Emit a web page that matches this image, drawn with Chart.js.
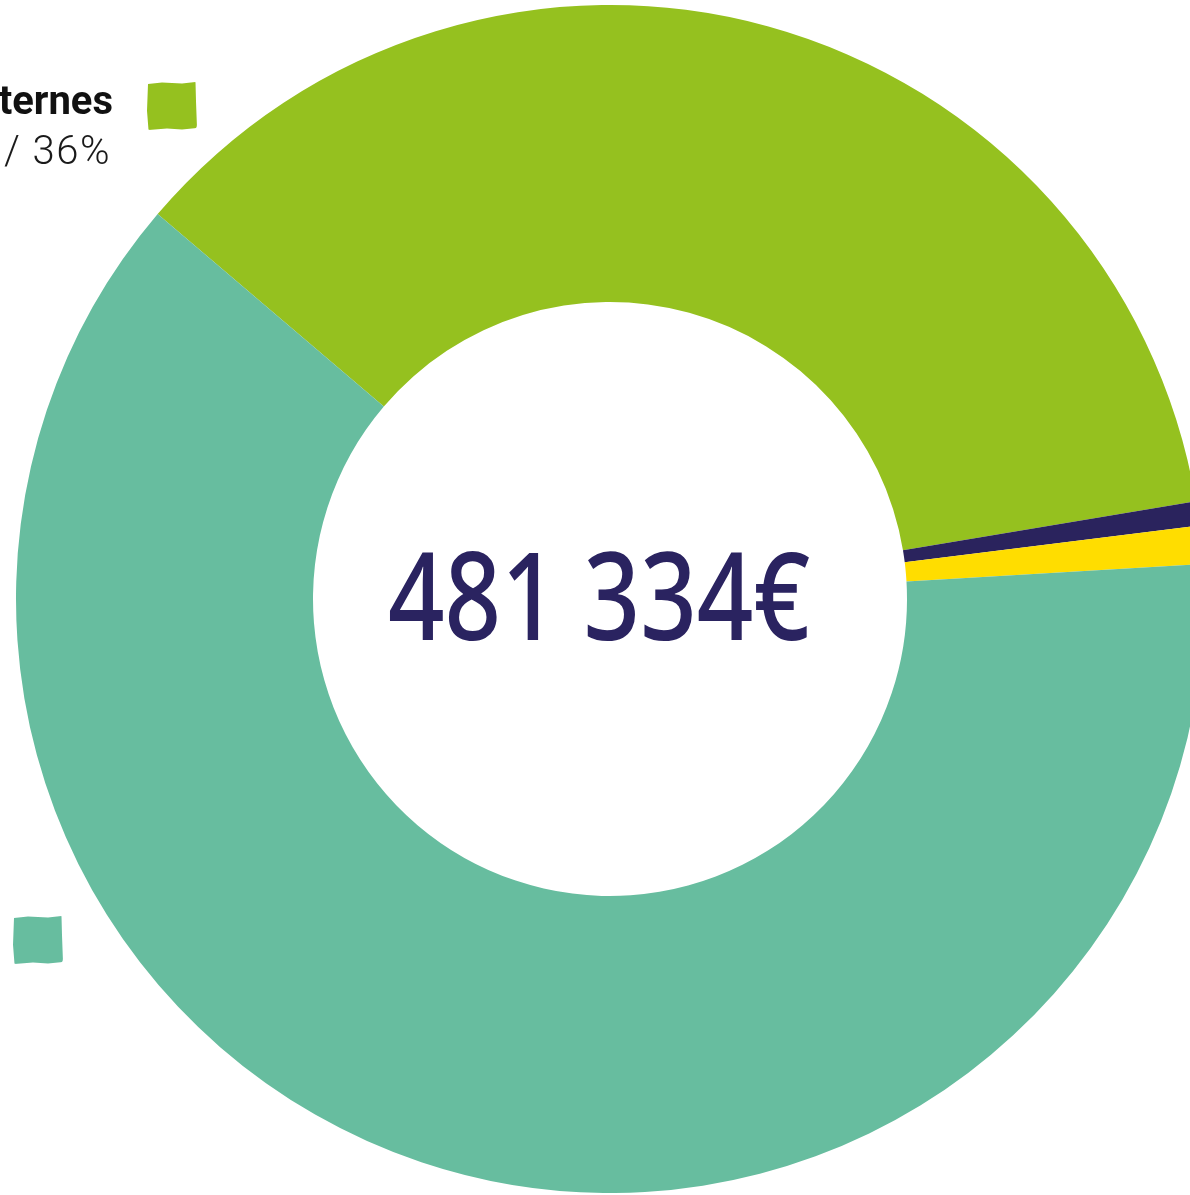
<!DOCTYPE html>
<html>
<head>
<meta charset="utf-8">
<script src="https://cdn.jsdelivr.net/npm/chart.js@4"></script>
<style>
  html, body { margin: 0; padding: 0; background: #fff; }
  #wrap { position: relative; width: 1190px; height: 1195px; overflow: hidden; background: #fff; }
  #donut { position: absolute; left: 0; top: 5px; }
  .mark { position: absolute; width: 50px; height: 48px; border-radius: 4px 2px 5px 3px;
          clip-path: polygon(2% 4%, 30% 1%, 70% 3%, 97% 0%, 98% 40%, 100% 96%, 70% 99%, 40% 97%, 3% 100%, 0% 60%); }
  .lbl { position: absolute; font-family: Roboto, "Noto Sans", sans-serif; font-size: 40px; line-height: 40px; white-space: nowrap; text-align: right; }
</style>
</head>
<body>
<div id="wrap">
  <canvas id="donut" width="1220" height="1188"></canvas>
</div>
<script>
const categories = ['Recettes externes', 'Part 2', 'Part 3', 'Part 4'];
const values = [174000, 3140, 5010, 299184];
const colors = ['#95c11f', '#2a235d', '#ffdd00', '#67bd9f'];
// visible parts of the side labels (the rest is outside the frame)
const labelText = ['ternes', null, null, null];
const markerPos = [[147, 82], null, null, [13, 916]];

const total = values.reduce((a, b) => a + b, 0);
const fmt = n => n.toString().replace(/\B(?=(\d{3})+(?!\d))/g, ' ');

const wrap = document.getElementById('wrap');
values.forEach((v, i) => {
    if (markerPos[i]) {
        const m = document.createElement('div');
        m.className = 'mark';
        m.style.left = markerPos[i][0] + 'px';
        m.style.top = markerPos[i][1] + 'px';
        m.style.background = colors[i];
        wrap.appendChild(m);
    }
    if (labelText[i]) {
        const t = document.createElement('div');
        t.className = 'lbl';
        t.style.right = (1190 - 113) + 'px';
        t.style.top = '81px';
        t.style.fontWeight = '700';
        t.style.color = '#111';
        t.innerText = labelText[i];
        wrap.appendChild(t);
        const p = document.createElement('div');
        p.className = 'lbl';
        p.style.right = (1190 - 111) + 'px';
        p.style.top = '131px';
        p.style.fontWeight = '300';
        p.style.letterSpacing = '1.5px';
        p.style.color = '#1a1a1a';
        p.innerText = '/ ' + Math.round(v / total * 100) + '%';
        wrap.appendChild(p);
    }
});

const centerText = {
    id: 'centerText',
    afterDraw(chart) {
        const ctx = chart.ctx;
        const txt = fmt(total) + '€';
        ctx.save();
        ctx.font = '500 122px "Noto Sans", sans-serif';
        ctx.fillStyle = '#2a2360';
        ctx.textAlign = 'center';
        ctx.textBaseline = 'alphabetic';
        const w = ctx.measureText(txt).width;
        const sx = 422 / w;
        ctx.translate(599, 635);
        ctx.scale(sx, 1);
        ctx.fillText(txt, 0, 0);
        ctx.restore();
    }
};

new Chart(document.getElementById('donut'), {
    type: 'doughnut',
    data: {
        labels: categories,
        datasets: [{ data: values, backgroundColor: colors, borderWidth: 0 }]
    },
    options: {
        responsive: false,
        animation: false,
        cutout: '50%',
        rotation: -49.6,
        layout: { padding: 0 },
        plugins: { legend: { display: false }, tooltip: { enabled: false } }
    },
    plugins: [centerText]
});
</script>
</body>
</html>
